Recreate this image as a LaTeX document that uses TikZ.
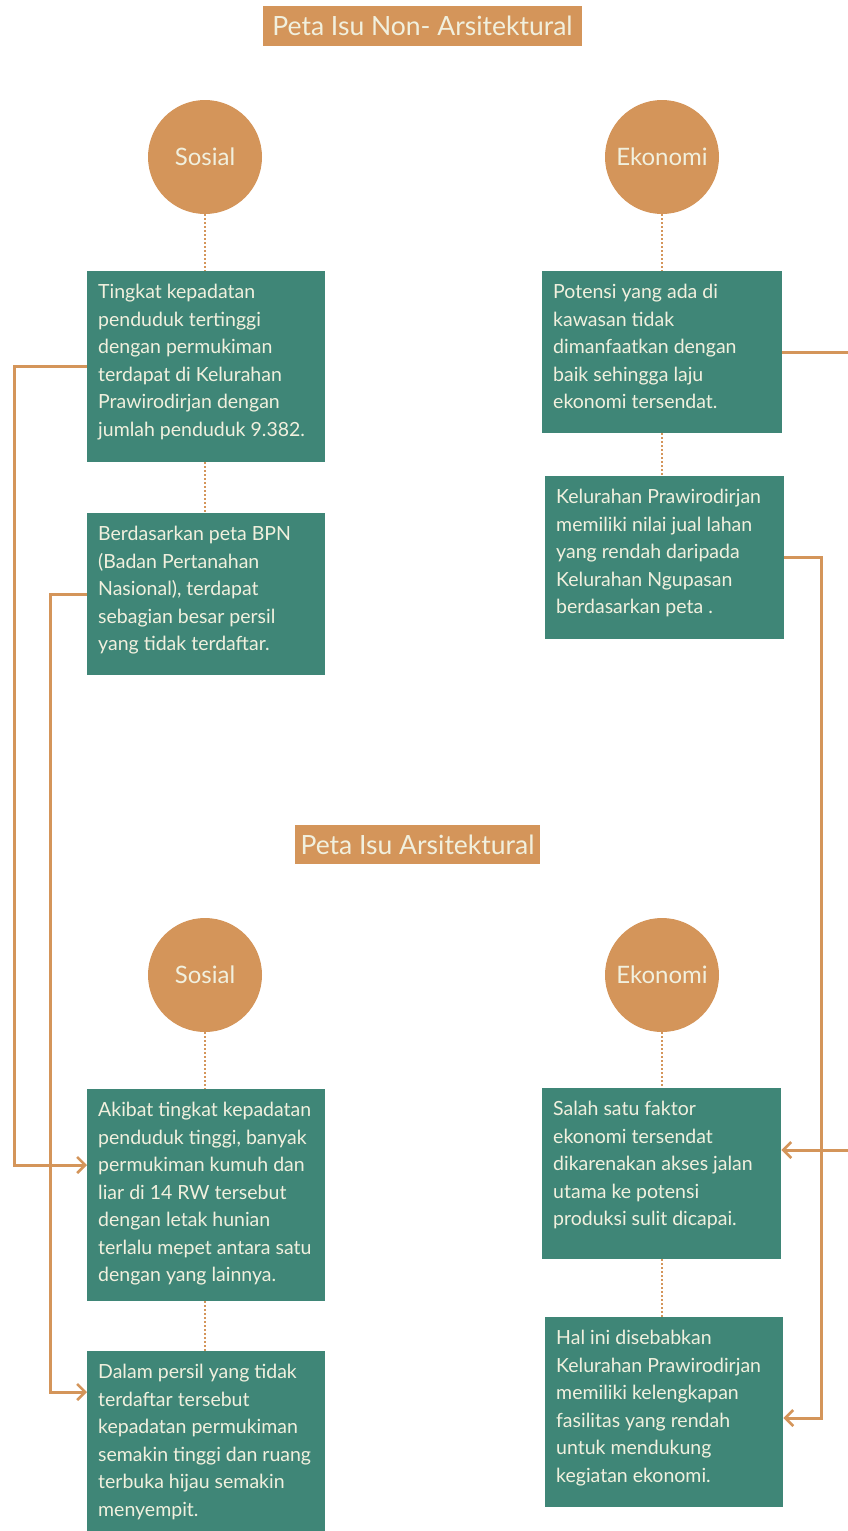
\documentclass[tikz,border=0pt]{standalone}
\usepackage{fontspec}
\setmainfont{Lato}
\usetikzlibrary{arrows.meta,calc}
\definecolor{org}{HTML}{D4955A}
\definecolor{grn}{HTML}{3F8677}
\definecolor{cream}{HTML}{F1F0DE}
\newcommand\bodyfont{\fontsize{19.5}{27.5}\selectfont}
\newcommand\bt[3]{\parbox[t][#1pt][t]{#2pt}{\raggedright\bodyfont #3}}
\begin{document}
\begin{tikzpicture}[x=1pt,y=-1pt,
  gbox/.style={fill=grn, text=cream, anchor=north west, inner xsep=11pt, inner ysep=13pt},
  circ/.style={circle, fill=org, text=cream, minimum size=114pt, inner sep=0pt, font=\fontsize{24}{28}\selectfont},
  ttl/.style={fill=org, text=cream, inner xsep=2pt, font=\fontsize{26.5}{30}\selectfont},
  dots/.style={draw=org, line width=2.2pt, dash pattern=on 2pt off 2pt},
  conn/.style={draw=org, line width=3pt},
  arr/.style={conn, -{Straight Barb[length=8pt,width=16pt,line width=2.6pt]}}]
\useasboundingbox (0,0) rectangle (847,1531);
\fill[white] (0,0) rectangle (847,1531);

% titles
\node[ttl, minimum width=319pt, minimum height=40pt] (t1) at (422.5,26) {Peta Isu Non- Arsitektural};
\node[ttl, minimum width=245pt, minimum height=39pt] (t2) at (417.5,844.5) {Peta Isu Arsitektural};

% circles
\node[circ] (s1) at (205,157) {Sosial};
\node[circ] (e1) at (662,157) {Ekonomi};
\node[circ] (s2) at (205,975) {Sosial};
\node[circ] (e2) at (662,975) {Ekonomi};

% boxes
\node[gbox] (l1) at (87,271) {\bt{165}{216}{Tingkat kepadatan\\penduduk tertinggi\\dengan permukiman\\terdapat di Kelurahan\\Prawirodirjan dengan\\jumlah penduduk 9.382.}};
\node[gbox] (l2) at (87,513) {\bt{136}{216}{Berdasarkan peta BPN\\(Badan Pertanahan\\Nasional), terdapat\\sebagian besar persil\\yang tidak terdaftar.}};
\node[gbox] (l3) at (87,1089) {\bt{186}{216}{Akibat tingkat kepadatan\\penduduk tinggi, banyak\\permukiman kumuh dan\\liar di 14 RW tersebut\\dengan letak hunian\\terlalu mepet antara satu\\dengan yang lainnya.}};
\node[gbox] (l4) at (87,1351) {\bt{156}{216}{Dalam persil yang tidak\\terdaftar tersebut\\kepadatan permukiman\\semakin tinggi dan ruang\\terbuka hijau semakin\\menyempit.}};

\node[gbox] (r1) at (542,271) {\bt{136}{218}{Potensi yang ada di\\kawasan tidak\\dimanfaatkan dengan\\baik sehingga laju\\ekonomi tersendat.}};
\node[gbox] (r2) at (545,476) {\bt{137}{217}{Kelurahan Prawirodirjan\\memiliki nilai jual lahan\\yang rendah daripada\\Kelurahan Ngupasan\\berdasarkan peta .}};
\node[gbox] (r3) at (542,1088) {\bt{145}{217}{Salah satu faktor\\ekonomi tersendat\\dikarenakan akses jalan\\utama ke potensi\\produksi sulit dicapai.}};
\node[gbox] (r4) at (545,1317) {\bt{164}{216}{Hal ini disebabkan\\Kelurahan Prawirodirjan\\memiliki kelengkapan\\fasilitas yang rendah\\untuk mendukung\\kegiatan ekonomi.}};

% dotted links
\draw[dots] (s1.south) -- (s1.south |- l1.north);
\draw[dots] (s1.south |- l1.south) -- (s1.south |- l2.north);
\draw[dots] (e1.south) -- (e1.south |- r1.north);
\draw[dots] (e1.south |- r1.south) -- (e1.south |- r2.north);
\draw[dots] (s2.south) -- (s2.south |- l3.north);
\draw[dots] (s2.south |- l3.south) -- (s2.south |- l4.north);
\draw[dots] (e2.south) -- (e2.south |- r3.north);
\draw[dots] (e2.south |- r3.south) -- (e2.south |- r4.north);

% connectors
\coordinate (a3) at ($(l3.north west)+(0,76)$);
\coordinate (a4) at ($(l4.north west)+(0,41)$);
\coordinate (b3) at ($(r3.north east)+(0,62)$);
\coordinate (b4) at ($(r4.north east)+(0,101)$);
\draw[arr] (l1.west) -- (14,0 |- l1.west) -- (14,0 |- a3) -- (a3);
\draw[arr] (l2.west) -- (50,0 |- l2.west) -- (50,0 |- a4) -- (a4);
\draw[arr] (r1.east) -- (849,0 |- r1.east) -- (849,0 |- b3) -- (b3);
\draw[arr] (r2.east) -- (821,0 |- r2.east) -- (821,0 |- b4) -- (b4);
\end{tikzpicture}
\end{document}
